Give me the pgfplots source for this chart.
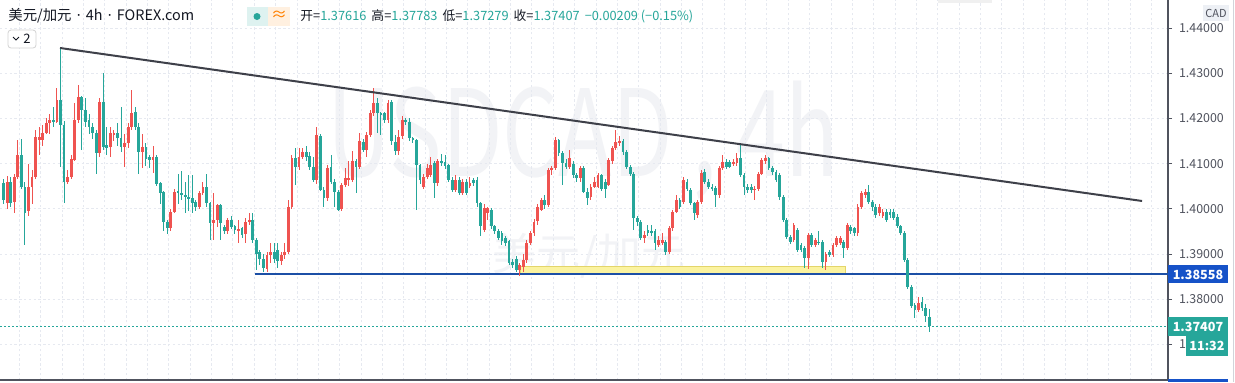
\documentclass[border=0pt]{standalone}
\usepackage{fontspec}
\setmainfont{Noto Sans CJK SC}
\newfontfamily\latinf{Noto Sans}
\usepackage{pgfplots}
\usepackage{pgfplotstable}
\pgfplotsset{compat=1.18}
\definecolor{upc}{HTML}{EF5350}
\definecolor{dnc}{HTML}{26A69A}
\definecolor{trendc}{HTML}{3E4049}
\definecolor{bluel}{HTML}{1C4FA6}
\definecolor{bluetag}{HTML}{1652C8}
\definecolor{yelf}{HTML}{FBF3A0}
\definecolor{yeld}{HTML}{E3D56A}
\definecolor{gridc}{HTML}{E6E9F0}
\definecolor{axc}{HTML}{50535E}
\definecolor{labc}{HTML}{50535E}
\definecolor{hdr}{HTML}{131722}
\definecolor{wm}{HTML}{F2F3F6}

\pgfplotstableread{
i o h l c
0 1.4056 1.4065 1.4010 1.4020
1 1.4012 1.4072 1.4000 1.4060
2 1.4060 1.4070 1.4005 1.4013
3 1.4015 1.4078 1.3990 1.4071
4 1.4071 1.4152 1.4065 1.4119
5 1.4119 1.4155 1.4045 1.4049
6 1.4049 1.4060 1.3920 1.3990
7 1.3995 1.4100 1.3985 1.4049
8 1.4049 1.4085 1.4010 1.4071
9 1.4071 1.4175 1.4065 1.4159
10 1.4152 1.4180 1.4120 1.4159
11 1.4152 1.4185 1.4140 1.4167
12 1.4167 1.4200 1.4165 1.4189
13 1.4189 1.4210 1.4165 1.4196
14 1.4197 1.4225 1.4180 1.4193
15 1.4193 1.4268 1.4190 1.4240
16 1.4240 1.4355 1.4093 1.4185
17 1.4185 1.4195 1.4012 1.4060
18 1.4060 1.4085 1.4055 1.4071
19 1.4071 1.4120 1.4065 1.4111
20 1.4108 1.4235 1.4105 1.4196
21 1.4196 1.4274 1.4190 1.4248
22 1.4248 1.4250 1.4130 1.4218
23 1.4218 1.4245 1.4180 1.4192
24 1.4196 1.4210 1.4165 1.4181
25 1.4181 1.4190 1.4155 1.4167
26 1.4167 1.4175 1.4078 1.4123
27 1.4123 1.4245 1.4115 1.4237
28 1.4237 1.4300 1.4130 1.4137
29 1.4141 1.4180 1.4120 1.4134
30 1.4137 1.4180 1.4115 1.4167
31 1.4165 1.4175 1.4150 1.4168
32 1.4168 1.4190 1.4140 1.4156
33 1.4156 1.4225 1.4125 1.4137
34 1.4137 1.4165 1.4093 1.4145
35 1.4145 1.4190 1.4135 1.4181
36 1.4181 1.4263 1.4175 1.4211
37 1.4214 1.4225 1.4175 1.4181
38 1.4181 1.4190 1.4078 1.4126
39 1.4126 1.4165 1.4090 1.4137
40 1.4137 1.4145 1.4095 1.4111
41 1.4115 1.4120 1.4090 1.4109
42 1.4109 1.4140 1.4080 1.4115
43 1.4115 1.4120 1.4050 1.4056
44 1.4056 1.4060 1.4010 1.4034
45 1.4037 1.4040 1.3950 1.3971
46 1.3971 1.3975 1.3945 1.3957
47 1.3957 1.4000 1.3950 1.3993
48 1.3993 1.4043 1.3990 1.4037
49 1.4040 1.4078 1.4010 1.4036
50 1.4036 1.4083 1.4020 1.4030
51 1.4030 1.4060 1.3990 1.4026
52 1.4026 1.4075 1.3995 1.4023
53 1.4023 1.4075 1.3990 1.4012
54 1.4015 1.4020 1.3995 1.4005
55 1.4005 1.4040 1.4000 1.4034
56 1.4034 1.4060 1.4030 1.4049
57 1.4049 1.4078 1.4005 1.4012
58 1.4012 1.4015 1.3931 1.3968
59 1.3968 1.4035 1.3931 1.3975
60 1.3975 1.4010 1.3960 1.4008
61 1.4008 1.4010 1.3930 1.3968
62 1.3960 1.3965 1.3945 1.3950
63 1.3950 1.3980 1.3945 1.3975
64 1.3975 1.3985 1.3955 1.3960
65 1.3962 1.3965 1.3945 1.3953
66 1.3950 1.3975 1.3925 1.3955
67 1.3957 1.3960 1.3935 1.3943
68 1.3945 1.3980 1.3925 1.3970
69 1.3970 1.3990 1.3965 1.3975
70 1.3975 1.3990 1.3925 1.3930
71 1.3930 1.3935 1.3865 1.3901
72 1.3905 1.3910 1.3875 1.3890
73 1.3890 1.3900 1.3861 1.3868
74 1.3868 1.3905 1.3860 1.3898
75 1.3898 1.3925 1.3880 1.3905
76 1.3905 1.3925 1.3880 1.3888
77 1.3908 1.3925 1.3870 1.3884
78 1.3884 1.3905 1.3875 1.3898
79 1.3898 1.3925 1.3890 1.3905
80 1.3905 1.4020 1.3900 1.4005
81 1.4005 1.4120 1.4000 1.4112
82 1.4112 1.4135 1.4052 1.4093
83 1.4093 1.4135 1.4085 1.4115
84 1.4115 1.4135 1.4110 1.4126
85 1.4126 1.4140 1.4105 1.4115
86 1.4118 1.4125 1.4085 1.4093
87 1.4093 1.4115 1.4060 1.4063
88 1.4063 1.4182 1.4055 1.4164
89 1.4160 1.4165 1.4040 1.4042
90 1.4042 1.4048 1.4005 1.4023
91 1.4023 1.4097 1.4018 1.4090
92 1.4093 1.4119 1.4055 1.4060
93 1.4060 1.4065 1.4005 1.4038
94 1.4038 1.4042 1.3995 1.3998
95 1.3999 1.4058 1.3995 1.4053
96 1.4053 1.4090 1.4048 1.4068
97 1.4064 1.4105 1.4050 1.4068
98 1.4064 1.4127 1.4060 1.4105
99 1.4105 1.4110 1.4035 1.4093
100 1.4093 1.4167 1.4088 1.4149
101 1.4149 1.4155 1.4125 1.4130
102 1.4130 1.4170 1.4115 1.4164
103 1.4164 1.4218 1.4158 1.4211
104 1.4211 1.4267 1.4205 1.4233
105 1.4233 1.4245 1.4167 1.4211
106 1.4211 1.4215 1.4163 1.4208
107 1.4211 1.4215 1.4190 1.4197
108 1.4197 1.4240 1.4190 1.4233
109 1.4237 1.4240 1.4141 1.4149
110 1.4149 1.4163 1.4120 1.4127
111 1.4127 1.4175 1.4120 1.4160
112 1.4160 1.4205 1.4155 1.4197
113 1.4197 1.4202 1.4185 1.4193
114 1.4193 1.4200 1.4150 1.4156
115 1.4156 1.4160 1.4145 1.4152
116 1.4152 1.4155 1.3998 1.4097
117 1.4097 1.4100 1.4055 1.4064
118 1.4049 1.4078 1.4045 1.4071
119 1.4071 1.4100 1.4065 1.4090
120 1.4075 1.4115 1.4070 1.4097
121 1.4101 1.4105 1.4023 1.4057
122 1.4057 1.4110 1.4050 1.4105
123 1.4105 1.4122 1.4095 1.4102
124 1.4104 1.4118 1.4088 1.4094
125 1.4097 1.4100 1.4060 1.4064
126 1.4064 1.4070 1.4038 1.4042
127 1.4042 1.4075 1.4038 1.4064
128 1.4064 1.4070 1.4030 1.4035
129 1.4035 1.4065 1.4030 1.4060
130 1.4060 1.4065 1.4030 1.4034
131 1.4050 1.4070 1.4045 1.4057
132 1.4063 1.4068 1.4050 1.4057
133 1.4064 1.4070 1.4005 1.4012
134 1.4012 1.4015 1.3939 1.3961
135 1.3954 1.4010 1.3948 1.4001
136 1.3990 1.4005 1.3975 1.4001
137 1.3998 1.4003 1.3955 1.3961
138 1.3961 1.3965 1.3945 1.3950
139 1.3950 1.3955 1.3930 1.3935
140 1.3946 1.3950 1.3920 1.3928
141 1.3935 1.3940 1.3918 1.3924
142 1.3928 1.3932 1.3875 1.3880
143 1.3883 1.3890 1.3870 1.3876
144 1.3890 1.3895 1.3860 1.3865
145 1.3865 1.3880 1.3851 1.3876
146 1.3872 1.3900 1.3860 1.3887
147 1.3887 1.3930 1.3880 1.3924
148 1.3924 1.3950 1.3920 1.3946
149 1.3946 1.3978 1.3940 1.3972
150 1.3972 1.4010 1.3965 1.4005
151 1.3998 1.4025 1.3995 1.4020
152 1.4020 1.4030 1.4000 1.4009
153 1.4009 1.4090 1.4005 1.4086
154 1.4086 1.4095 1.4075 1.4090
155 1.4090 1.4158 1.4085 1.4152
156 1.4152 1.4155 1.4118 1.4123
157 1.4123 1.4128 1.4053 1.4101
158 1.4101 1.4110 1.4088 1.4093
159 1.4093 1.4130 1.4088 1.4112
160 1.4100 1.4105 1.4068 1.4075
161 1.4075 1.4080 1.4060 1.4068
162 1.4068 1.4095 1.4060 1.4090
163 1.4090 1.4095 1.4035 1.4038
164 1.4038 1.4045 1.4009 1.4023
165 1.4027 1.4055 1.4020 1.4049
166 1.4049 1.4070 1.4045 1.4060
167 1.4049 1.4080 1.4045 1.4075
168 1.4075 1.4078 1.4040 1.4045
169 1.4060 1.4065 1.4023 1.4045
170 1.4053 1.4112 1.4050 1.4108
171 1.4105 1.4140 1.4100 1.4134
172 1.4134 1.4174 1.4130 1.4149
173 1.4145 1.4160 1.4140 1.4150
174 1.4150 1.4155 1.4120 1.4126
175 1.4126 1.4130 1.4088 1.4093
176 1.4093 1.4098 1.4073 1.4078
177 1.4078 1.4082 1.3953 1.3979
178 1.3979 1.3985 1.3961 1.3972
179 1.3972 1.3976 1.3930 1.3935
180 1.3935 1.3950 1.3925 1.3942
181 1.3953 1.3965 1.3940 1.3946
182 1.3950 1.3965 1.3940 1.3947
183 1.3950 1.3955 1.3909 1.3924
184 1.3920 1.3940 1.3915 1.3931
185 1.3924 1.3946 1.3920 1.3931
186 1.3927 1.3932 1.3898 1.3905
187 1.3905 1.3962 1.3900 1.3957
188 1.3957 1.3998 1.3950 1.3994
189 1.3994 1.4030 1.3990 1.4020
190 1.4020 1.4025 1.4000 1.4005
191 1.4016 1.4070 1.4010 1.4064
192 1.4060 1.4065 1.4040 1.4045
193 1.4042 1.4045 1.4008 1.4012
194 1.4012 1.4015 1.3975 1.3990
195 1.3987 1.4020 1.3980 1.4016
196 1.4016 1.4085 1.4010 1.4079
197 1.4082 1.4088 1.4055 1.4060
198 1.4060 1.4065 1.4045 1.4049
199 1.4049 1.4055 1.4040 1.4045
200 1.4045 1.4050 1.4005 1.4031
201 1.4031 1.4095 1.4025 1.4090
202 1.4090 1.4119 1.4085 1.4104
203 1.4104 1.4110 1.4088 1.4093
204 1.4104 1.4108 1.4090 1.4093
205 1.4100 1.4110 1.4095 1.4104
206 1.4101 1.4123 1.4095 1.4112
207 1.4112 1.4141 1.4070 1.4075
208 1.4075 1.4080 1.4030 1.4049
209 1.4049 1.4055 1.4035 1.4042
210 1.4049 1.4055 1.4035 1.4042
211 1.4042 1.4050 1.4020 1.4045
212 1.4045 1.4082 1.4040 1.4078
213 1.4078 1.4112 1.4075 1.4108
214 1.4105 1.4120 1.4100 1.4112
215 1.4112 1.4115 1.4085 1.4090
216 1.4090 1.4095 1.4075 1.4082
217 1.4082 1.4085 1.4060 1.4064
218 1.4075 1.4080 1.4020 1.4027
219 1.4027 1.4030 1.3970 1.3975
220 1.3975 1.3980 1.3933 1.3938
221 1.3938 1.3942 1.3922 1.3927
222 1.3931 1.3968 1.3926 1.3964
223 1.3953 1.3957 1.3905 1.3909
224 1.3920 1.3925 1.3905 1.3909
225 1.3913 1.3918 1.3868 1.3891
226 1.3891 1.3946 1.3868 1.3942
227 1.3942 1.3946 1.3915 1.3920
228 1.3920 1.3936 1.3915 1.3931
229 1.3927 1.3950 1.3920 1.3924
230 1.3927 1.3930 1.3868 1.3883
231 1.3883 1.3905 1.3865 1.3901
232 1.3905 1.3910 1.3893 1.3898
233 1.3898 1.3925 1.3893 1.3920
234 1.3920 1.3940 1.3915 1.3935
235 1.3924 1.3940 1.3920 1.3935
236 1.3927 1.3932 1.3891 1.3913
237 1.3913 1.3968 1.3908 1.3964
238 1.3960 1.3965 1.3945 1.3950
239 1.3957 1.3960 1.3940 1.3946
240 1.3946 1.4010 1.3940 1.4005
241 1.4005 1.4040 1.4000 1.4034
242 1.4030 1.4045 1.4025 1.4038
243 1.4038 1.4053 1.4010 1.4016
244 1.4016 1.4020 1.3995 1.4005
245 1.4005 1.4010 1.3980 1.3986
246 1.3990 1.4010 1.3985 1.4005
247 1.3985 1.4000 1.3980 1.3994
248 1.3994 1.4000 1.3972 1.3976
249 1.3994 1.4000 1.3980 1.3986
250 1.3994 1.4000 1.3975 1.3979
251 1.3983 1.3988 1.3957 1.3961
252 1.3961 1.3965 1.3942 1.3946
253 1.3946 1.3950 1.3883 1.3887
254 1.3887 1.3891 1.3822 1.3828
255 1.3828 1.3832 1.3780 1.3784
256 1.3787 1.3792 1.3758 1.3776
257 1.3776 1.3806 1.3772 1.3791
258 1.3795 1.3805 1.3775 1.3780
259 1.3780 1.3790 1.3750 1.3762
260 1.37616 1.37783 1.37279 1.37407
}\candles

\begin{document}
\begin{tikzpicture}
\useasboundingbox (0,0) rectangle (617.5pt,-191pt);
\fill[white] (0,0) rectangle (617.5pt,-191pt);
\begin{scope}[x=0.5pt,y=-0.5pt]
\node[text=wm, inner sep=0, anchor=center] at (583,140) {\scalebox{4.4}[6.0]{\fontsize{10}{10}\selectfont USDCAD , 4h}};
\node[text=wm, inner sep=0, anchor=center] at (589,256) {\fontsize{22}{22}\selectfont 美元/加元};
\end{scope}
\begin{axis}[
  at={(0pt,0pt)}, anchor=north west,
  width=584pt, height=190pt, scale only axis,
  xmin=-1, xmax=327.09, ymin=1.362124, ymax=1.446195,
  axis x line*=bottom, axis y line*=right,
  axis line style={-, draw=axc, line width=0.6pt},
  xtick={4.4,10.4,...,328}, xmajorticks=false, xmajorgrids=true,
  ytick={1.37,1.38,1.39,1.40,1.41,1.42,1.43,1.44},
  yticklabels={1.,1.38000,1.39000,1.40000,1.41000,1.42000,1.43000,1.44000},
  ymajorgrids=true,
  tick align=outside, major tick length=2pt,
  ytick style={draw=axc, line width=0.5pt},
  yticklabel style={font=\fontsize{6.2}{7}\selectfont, text=labc},
  major grid style={draw=gridc, dash pattern=on 1.2pt off 1.2pt, line width=0.4pt},
]
% yellow zone
\addplot[fill=yelf, draw=yeld, line width=0.5pt, forget plot] coordinates {(145.1,1.38558) (236.6,1.38558) (236.6,1.38720) (145.1,1.38720)} -- cycle;
% blue support line
\addplot[bluel, line width=1pt, forget plot] coordinates {(70.6,1.38558) (327.09,1.38558)};
% last price dotted line
\addplot[dnc, line width=0.5pt, dash pattern=on 1pt off 1pt, forget plot] coordinates {(-1,1.37407) (327.09,1.37407)};
% wicks
\addplot[draw=none, mark=none, forget plot,
  restrict expr to domain={\thisrow{c}-\thisrow{o}}{0:1},
  error bars/.cd, y dir=both, y explicit, error mark=none,
  error bar style={draw=upc, line width=0.5pt}]
  table[x=i, y expr={(\thisrow{h}+\thisrow{l})/2}, y error expr={(\thisrow{h}-\thisrow{l})/2}] {\candles};
\addplot[draw=none, mark=none, forget plot,
  restrict expr to domain={\thisrow{c}-\thisrow{o}}{-1:-0.000001},
  error bars/.cd, y dir=both, y explicit, error mark=none,
  error bar style={draw=dnc, line width=0.5pt}]
  table[x=i, y expr={(\thisrow{h}+\thisrow{l})/2}, y error expr={(\thisrow{h}-\thisrow{l})/2}] {\candles};
% bodies
\addplot[draw=none, mark=none, forget plot,
  restrict expr to domain={\thisrow{c}-\thisrow{o}}{0:1},
  error bars/.cd, y dir=both, y explicit, error mark=none,
  error bar style={draw=upc, line width=1.4pt}]
  table[x=i, y expr={(\thisrow{o}+\thisrow{c})/2}, y error expr={max(abs(\thisrow{c}-\thisrow{o})/2,0.00012)}] {\candles};
\addplot[draw=none, mark=none, forget plot,
  restrict expr to domain={\thisrow{c}-\thisrow{o}}{-1:-0.000001},
  error bars/.cd, y dir=both, y explicit, error mark=none,
  error bar style={draw=dnc, line width=1.4pt}]
  table[x=i, y expr={(\thisrow{o}+\thisrow{c})/2}, y error expr={max(abs(\thisrow{c}-\thisrow{o})/2,0.00012)}] {\candles};
% trend line
\addplot[trendc, line width=1pt, forget plot] coordinates {(15.85,1.43558) (319.8,1.40173)};
\end{axis}
\begin{scope}[x=0.5pt,y=-0.5pt]
% header
\node[anchor=west, inner sep=0, text=hdr] at (8,16) {\fontsize{7.2}{8}\selectfont 美元/加元\hspace{2.6pt}{\latinf ·}\hspace{2.6pt}4h\hspace{2.6pt}{\latinf ·}\hspace{2.6pt}FOREX.com};
\fill[dnc!15] (247,7) rectangle (268,26);
\fill[dnc] (257,16.5) circle (3.5);
\fill[orange!12] (268,7) rectangle (290,26);
\node[inner sep=0, text=orange] at (279,16) {\fontsize{8}{8}\selectfont ≈};
\node[anchor=west, inner sep=0, text=hdr] at (300,16.5) {\fontsize{6.4}{7}\selectfont 开=\textcolor{dnc}{1.37616}\, 高=\textcolor{dnc}{1.37783}\, 低=\textcolor{dnc}{1.37279}\, 收=\textcolor{dnc}{1.37407}\, \textcolor{dnc}{−0.00209 (−0.15\%)}};
\draw[rounded corners=1.5pt, draw=gray!35, fill=white, line width=0.4pt] (8,30) rectangle (36,48);
\draw[hdr, line width=0.5pt] (13,37) -- (16,40) -- (19,37);
\node[inner sep=0, text=hdr] at (27,39) {\fontsize{6.5}{7}\selectfont 2};
% right side
\draw[gridc!80!gray, line width=0.5pt] (1233,0) -- (1233,382);
\fill[gray!12] (938,0) rectangle (992,3);
\fill[gridc!70] (1203,5) rectangle (1229,21);
\node[inner sep=0, text=labc] at (1216,13.5) {\fontsize{5.5}{6}\selectfont CAD};
\fill[bluetag] (1168,265) rectangle (1228,283);
\node[inner sep=0, text=white] at (1198,274.5) {\fontsize{6.3}{7}\selectfont\bfseries 1.38558};
\fill[dnc] (1168,317) rectangle (1228,336);
\node[inner sep=0, text=white] at (1198,326.5) {\fontsize{6.3}{7}\selectfont\bfseries 1.37407};
\fill[dnc] (1186,336) rectangle (1228,356);
\node[inner sep=0, text=white] at (1207,346) {\fontsize{6.3}{7}\selectfont\bfseries 11:32};
\draw[bluetag, line width=1.5pt] (1168,380) -- (1228,380);
\end{scope}
\end{tikzpicture}
\end{document}
